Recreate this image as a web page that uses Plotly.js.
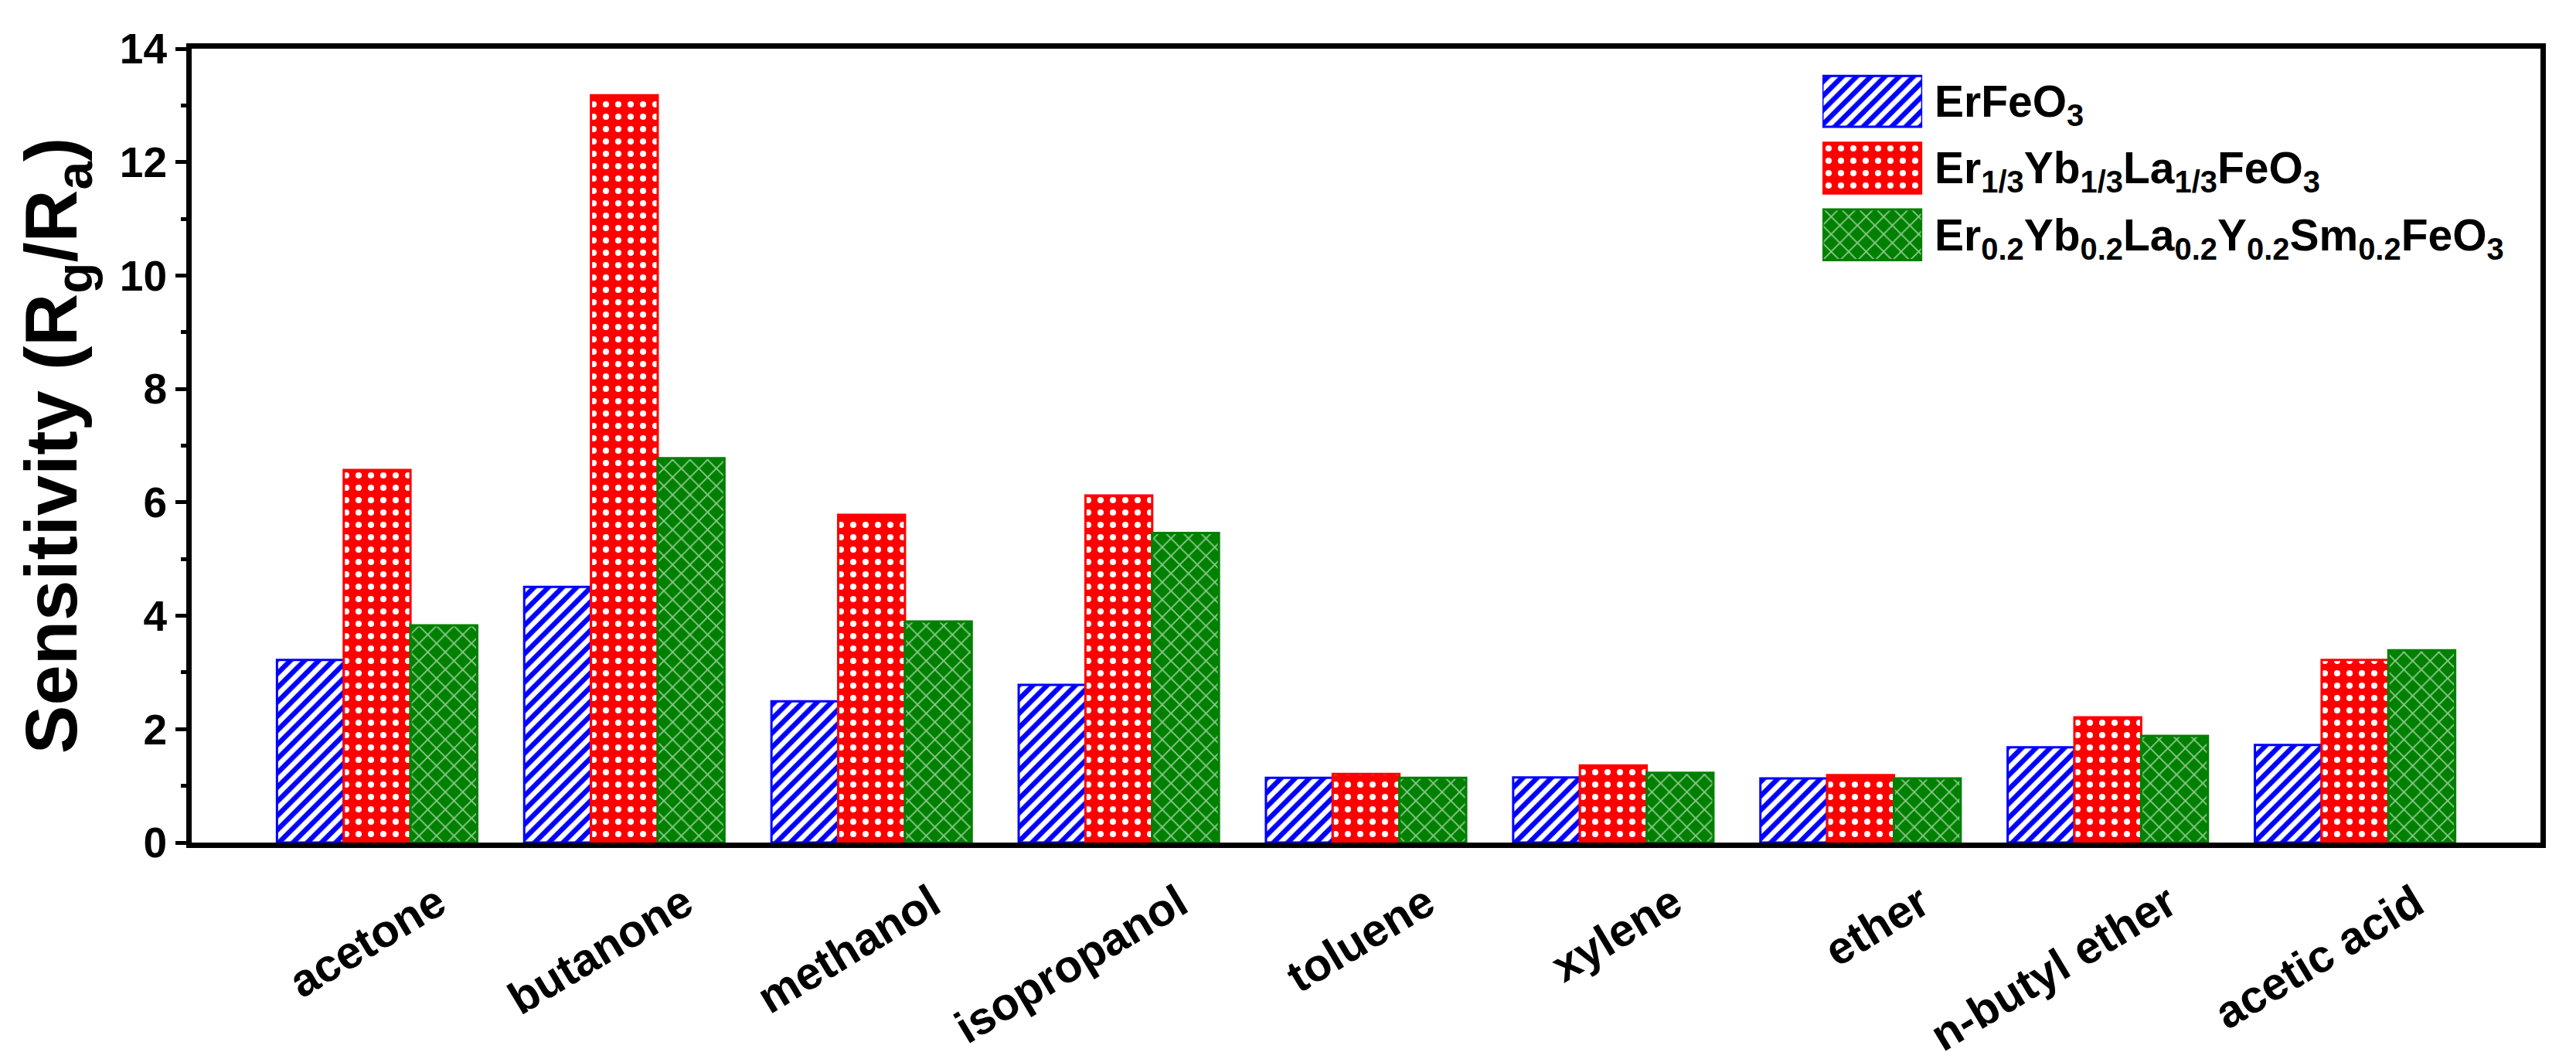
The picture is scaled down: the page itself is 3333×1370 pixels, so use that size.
<!DOCTYPE html>
<html>
<head>
<meta charset="utf-8">
<script src="https://cdn.plot.ly/plotly-3.0.1.min.js"></script>
<style>
  html, body { margin: 0; padding: 0; background: #fff; }
  #chart { width: 3333px; height: 1370px; }
</style>
</head>
<body>
<div id="chart"></div>
<script>
// gases on the x axis
const gases = ['acetone', 'butanone', 'methanol', 'isopropanol', 'toluene',
               'xylene', 'ether', 'n-butyl ether', 'acetic acid'];

// sensitivity (Rg/Ra)
const erFeO3   = [3.22, 4.51, 2.49, 2.78, 1.14, 1.15, 1.13, 1.68, 1.72];
const erYbLa   = [6.57, 13.18, 5.78, 6.12, 1.21, 1.36, 1.19, 2.21, 3.22];
const highEnt  = [3.83, 6.78, 3.90, 5.46, 1.14, 1.23, 1.13, 1.88, 3.39];

const seriesNames = [
  'ErFeO<sub>3</sub>',
  'Er<sub>1/3</sub>Yb<sub>1/3</sub>La<sub>1/3</sub>FeO<sub>3</sub>',
  'Er<sub>0.2</sub>Yb<sub>0.2</sub>La<sub>0.2</sub>Y<sub>0.2</sub>Sm<sub>0.2</sub>FeO<sub>3</sub>'
];
const yTicks = [0, 2, 4, 6, 8, 10, 12, 14];

const FONT = 'Liberation Sans, Arial, Helvetica, sans-serif';

// fill styles: hatch / dots / cross
const styles = [
  { line: '#0000ff', pattern: { shape: '/', fgcolor: '#0000ff', bgcolor: '#ffffff', size: 13, solidity: 0.5 } },
  { line: '#ff0000', pattern: { shape: '.', fgcolor: '#ffffff', bgcolor: '#ff0000', size: 16, solidity: 0.2 } },
  { line: '#008000', pattern: { shape: 'x', fgcolor: '#8cc88c', bgcolor: '#008000', size: 16, solidity: 0.22 } }
];

const allValues = [erFeO3, erYbLa, highEnt];

let traces = [];
for (let i = 0; i < allValues.length; i++) {
  traces.push({
    type: 'bar',
    x: gases,
    y: allValues[i],
    name: seriesNames[i],
    showlegend: false,
    marker: {
      color: styles[i].pattern.bgcolor,
      line: { color: styles[i].line, width: 3 },
      pattern: styles[i].pattern
    },
    hoverinfo: 'x+y'
  });
}

// legend swatches drawn as bars on a small hidden axis pair
for (let i = 0; i < seriesNames.length; i++) {
  traces.push({
    type: 'bar',
    orientation: 'h',
    xaxis: 'x2',
    yaxis: 'y2',
    x: [1],
    y: [seriesNames[i]],
    base: 0,
    width: 0.76,
    offset: -0.38,
    offsetgroup: 'legend',
    showlegend: false,
    hoverinfo: 'skip',
    marker: {
      color: styles[i].pattern.bgcolor,
      line: { color: styles[i].line, width: 3 },
      pattern: styles[i].pattern
    }
  });
}

let legendLabels = seriesNames.map(function (n) {
  return {
    xref: 'x2', yref: 'y2', x: 1, y: n,
    xanchor: 'left', yanchor: 'middle', xshift: 14, yshift: -4,
    text: n, showarrow: false,
    font: { family: FONT, size: 57, weight: 'bold', color: '#000' }
  };
});

const layout = {
  width: 3333,
  height: 1370,
  margin: { l: 248, r: 46, t: 63, b: 280 },
  paper_bgcolor: '#ffffff',
  plot_bgcolor: '#ffffff',
  barmode: 'group',
  bargap: 0.19,
  bargroupgap: 0,
  font: { family: FONT, color: '#000' },
  xaxis: {
    type: 'category',
    range: [-0.75, 8.75],
    showline: true, linewidth: 7, linecolor: '#000', mirror: true,
    ticks: '', showgrid: false, zeroline: false,
    tickangle: -31,
    ticklabelshift: 78,
    ticklabelstandoff: 14,
    tickfont: { family: FONT, size: 59, weight: 'bold', color: '#000' },
    automargin: false
  },
  yaxis: {
    range: [0, 14],
    tickvals: yTicks,
    ticks: 'outside', ticklen: 14, tickwidth: 5, tickcolor: '#000',
    minor: { dtick: 1, ticks: 'outside', ticklen: 7, tickwidth: 5, tickcolor: '#000' },
    showline: true, linewidth: 7, linecolor: '#000', mirror: true,
    showgrid: false, zeroline: false,
    tickfont: { family: FONT, size: 55, weight: 'bold', color: '#000' },
    title: {
      text: 'Sensitivity (R<sub>g</sub>/R<sub>a</sub>)',
      font: { family: FONT, size: 94, weight: 'bold', color: '#000' },
      standoff: 26
    },
    automargin: false
  },
  xaxis2: {
    domain: [0.6943, 0.7368], anchor: 'y2', range: [0, 1],
    visible: false, fixedrange: true
  },
  yaxis2: {
    domain: [0.7235, 0.9757], anchor: 'x2', type: 'category',
    range: [2.5, -0.5], visible: false, fixedrange: true
  },
  annotations: legendLabels
};

Plotly.newPlot('chart', traces, layout, { staticPlot: true });
</script>
</body>
</html>
